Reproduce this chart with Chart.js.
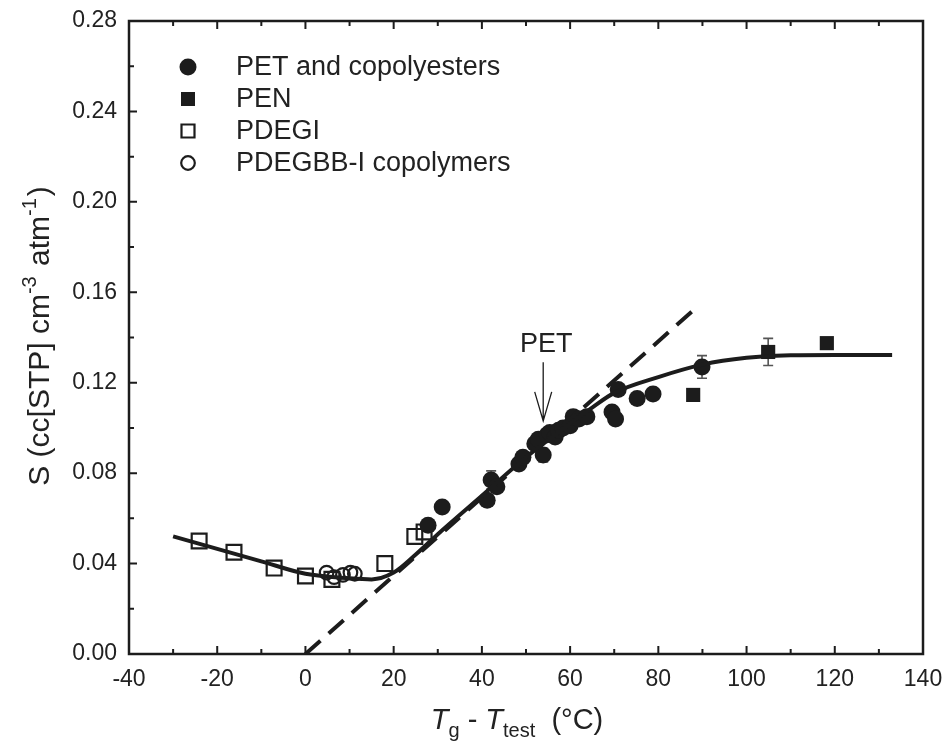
<!DOCTYPE html>
<html>
<head>
<meta charset="utf-8">
<script src="https://cdn.jsdelivr.net/npm/chart.js@4/dist/chart.umd.min.js"></script>
<style>
  html, body { margin: 0; padding: 0; background: #fff; }
  #wrap { width: 945px; height: 748px; }
</style>
</head>
<body>
<div id="wrap"><canvas id="c" width="945" height="748"></canvas></div>
<script>
// Solubility S vs. (Tg - Ttest)

// ---- data ----
const xTicks = [-40, -20, 0, 20, 40, 60, 80, 100, 120, 140];
const yTicks = [0.00, 0.04, 0.08, 0.12, 0.16, 0.20, 0.24, 0.28];

// PET and copolyesters: x, S, error
const petX   = [27.8, 31.0, 41.2, 42.1, 43.4, 48.4, 49.3, 52.0, 52.8, 53.9, 54.8, 55.4, 56.6, 57.4, 58.4, 60.0, 60.7, 62.0, 63.8, 69.5, 70.3, 70.9, 75.2, 78.8, 89.9];
const petS   = [0.057, 0.065, 0.068, 0.077, 0.074, 0.084, 0.087, 0.093, 0.095, 0.088, 0.097, 0.098, 0.096, 0.099, 0.100, 0.101, 0.105, 0.104, 0.105, 0.107, 0.104, 0.117, 0.113, 0.115, 0.127];
const petErr = [0, 0, 0.002, 0.004, 0.002, 0.002, 0.002, 0.002, 0, 0.003, 0, 0.002, 0, 0, 0.002, 0, 0, 0, 0, 0, 0.002, 0, 0, 0, 0.005];

// PEN
const penX   = [87.9, 104.9, 118.2];
const penS   = [0.1146, 0.1336, 0.1375];
const penErr = [0, 0.006, 0];

// PDEGI
const pdegiX = [-24.1, -16.2, -7.1, 0.0, 6.0, 18.0, 24.8, 26.9];
const pdegiS = [0.050, 0.045, 0.038, 0.0345, 0.033, 0.040, 0.052, 0.054];

// PDEGBB-I copolymers
const bbX = [4.8, 6.5, 8.5, 10.2, 11.2];
const bbS = [0.036, 0.034, 0.035, 0.036, 0.0355];

// fitted curve through all data
const fitX = [-30, -20, -10, 0, 10, 15, 20, 25, 30, 40, 50, 60, 65, 70, 80, 90, 100, 110, 120, 133];
const fitS = [0.052, 0.0465, 0.041, 0.0355, 0.0335, 0.033, 0.036, 0.044, 0.053, 0.070, 0.087, 0.102, 0.109, 0.1155, 0.1225, 0.128, 0.131, 0.1322, 0.1323, 0.1323];

// glassy-state extrapolation (dashed)
const lineX = [0, 88.5];
const lineS = [0, 0.153];

// PET marker: label position, arrow start and tip (data units)
const petNote = { text: 'PET', x: 53.9, textS: 0.1336, fromS: 0.1291, toS: 0.1031 };

const legendItems = ['PET and copolyesters', 'PEN', 'PDEGI', 'PDEGBB-I copolymers'];

// ---- helpers ----
const INK = '#1c1c1c';
const TXT = '#222';
const FONT = '"Liberation Sans", Arial, Helvetica, sans-serif';
const pts = (xs, ys) => xs.map((x, i) => ({ x: x, y: ys[i] }));

function drawMarker(ctx, kind, x, y) {
  ctx.save();
  ctx.lineWidth = 2.2;
  ctx.strokeStyle = INK;
  ctx.fillStyle = INK;
  ctx.beginPath();
  if (kind === 'fcircle') { ctx.arc(x, y, 8.5, 0, Math.PI * 2); ctx.fill(); }
  else if (kind === 'fsquare') { ctx.rect(x - 7, y - 7, 14, 14); ctx.fill(); }
  else if (kind === 'osquare') { ctx.rect(x - 6.5, y - 6.5, 13, 13); ctx.stroke(); }
  else if (kind === 'ocircle') { ctx.arc(x, y, 6.8, 0, Math.PI * 2); ctx.stroke(); }
  ctx.restore();
}

function richWidth(ctx, segs) {
  let w = 0;
  segs.forEach(s => { ctx.font = s.font; w += ctx.measureText(s.t).width + (s.gap || 0); });
  return w;
}
function drawRich(ctx, segs, cx, baseY) {
  const w = richWidth(ctx, segs);
  let x = cx - w / 2;
  ctx.textAlign = 'left';
  ctx.textBaseline = 'alphabetic';
  segs.forEach(s => {
    ctx.font = s.font;
    ctx.fillText(s.t, x, baseY + (s.dy || 0));
    x += ctx.measureText(s.t).width + (s.gap || 0);
  });
}

// error bars, drawn beneath the markers
const errorBars = {
  id: 'errorBars',
  beforeDatasetsDraw(chart) {
    const ctx = chart.ctx, xs = chart.scales.x, ys = chart.scales.y;
    ctx.save();
    ctx.strokeStyle = '#555';
    ctx.lineWidth = 1.6;
    chart.data.datasets.forEach(ds => {
      if (!ds.errors) return;
      ds.data.forEach((p, i) => {
        const e = ds.errors[i];
        if (!e) return;
        const px = xs.getPixelForValue(p.x);
        const y1 = ys.getPixelForValue(p.y + e), y2 = ys.getPixelForValue(p.y - e);
        ctx.beginPath();
        ctx.moveTo(px, y1); ctx.lineTo(px, y2);
        ctx.moveTo(px - 5, y1); ctx.lineTo(px + 5, y1);
        ctx.moveTo(px - 5, y2); ctx.lineTo(px + 5, y2);
        ctx.stroke();
      });
    });
    ctx.restore();
  }
};

// frame, inward ticks, titles, legend and the PET pointer
const decorations = {
  id: 'decorations',
  afterDraw(chart) {
    const ctx = chart.ctx, a = chart.chartArea, xs = chart.scales.x, ys = chart.scales.y;
    ctx.save();
    ctx.strokeStyle = INK;
    ctx.lineWidth = 2.5;
    ctx.strokeRect(a.left, a.top, a.right - a.left, a.bottom - a.top);

    // ticks
    ctx.lineWidth = 2;
    const majorLen = 8, minorLen = 5;
    ctx.beginPath();
    xTicks.forEach((v, i) => {
      const px = xs.getPixelForValue(v);
      ctx.moveTo(px, a.bottom); ctx.lineTo(px, a.bottom - majorLen);
      ctx.moveTo(px, a.top); ctx.lineTo(px, a.top + majorLen);
      if (i < xTicks.length - 1) {
        const m = xs.getPixelForValue((v + xTicks[i + 1]) / 2);
        ctx.moveTo(m, a.bottom); ctx.lineTo(m, a.bottom - minorLen);
        ctx.moveTo(m, a.top); ctx.lineTo(m, a.top + minorLen);
      }
    });
    yTicks.forEach((v, i) => {
      const py = ys.getPixelForValue(v);
      ctx.moveTo(a.left, py); ctx.lineTo(a.left + majorLen, py);
      if (i < yTicks.length - 1) {
        const m = ys.getPixelForValue((v + yTicks[i + 1]) / 2);
        ctx.moveTo(a.left, m); ctx.lineTo(a.left + minorLen, m);
      }
    });
    ctx.stroke();

    ctx.fillStyle = TXT;
    // x title: Tg - Ttest (°C)
    const big = '29px ' + FONT, bigI = 'italic 29px ' + FONT, small = '20px ' + FONT;
    drawRich(ctx, [
      { t: 'T', font: bigI },
      { t: 'g', font: small, dy: 8 },
      { t: ' - ', font: big },
      { t: 'T', font: bigI },
      { t: 'test', font: small, dy: 8 },
      { t: '  (\u00B0C)', font: big }
    ], 517, 729);

    // y title
    ctx.save();
    ctx.translate(49, 336);
    ctx.rotate(-Math.PI / 2);
    const yBig = '30px ' + FONT, ySmall = '20px ' + FONT;
    drawRich(ctx, [
      { t: 'S (cc[STP] cm', font: yBig },
      { t: '-3', font: ySmall, dy: -13, gap: 2 },
      { t: ' atm', font: yBig },
      { t: '-1', font: ySmall, dy: -13, gap: 2 },
      { t: ')', font: yBig }
    ], 0, 0);
    ctx.restore();

    // legend
    const kinds = ['fcircle', 'fsquare', 'osquare', 'ocircle'];
    const lx = 188, tx = 236, ly0 = 67, dy = 32;
    ctx.font = '27px ' + FONT;
    ctx.textAlign = 'left';
    ctx.textBaseline = 'middle';
    legendItems.forEach((label, i) => {
      const yy = ly0 + i * dy;
      drawMarker(ctx, kinds[i], lx, yy);
      ctx.fillStyle = TXT;
      ctx.fillText(label, tx, yy + 1);
    });

    // PET pointer
    const ax = xs.getPixelForValue(petNote.x);
    const yText = ys.getPixelForValue(petNote.textS);
    const yFrom = ys.getPixelForValue(petNote.fromS);
    const yTip = ys.getPixelForValue(petNote.toS);
    ctx.font = '27px ' + FONT;
    ctx.textAlign = 'center';
    ctx.textBaseline = 'alphabetic';
    ctx.fillText(petNote.text, ax + 3, yText);
    ctx.strokeStyle = INK;
    ctx.lineWidth = 1.3;
    ctx.beginPath();
    ctx.moveTo(ax, yFrom); ctx.lineTo(ax, yTip);
    ctx.moveTo(ax - 8.5, yTip - 29); ctx.lineTo(ax, yTip); ctx.lineTo(ax + 8.5, yTip - 29);
    ctx.stroke();
    ctx.restore();
  }
};

const tickFont = { family: FONT, size: 23 };

new Chart(document.getElementById('c'), {
  type: 'scatter',
  data: {
    datasets: [
      { label: 'fit', data: pts(fitX, fitS), showLine: true, cubicInterpolationMode: 'monotone',
        borderColor: INK, borderWidth: 4, pointRadius: 0, fill: false },
      { label: 'extrapolation', data: pts(lineX, lineS), showLine: true, borderDash: [20, 11],
        borderColor: INK, borderWidth: 4, pointRadius: 0, fill: false },
      { label: 'PET and copolyesters', data: pts(petX, petS), errors: petErr,
        pointStyle: 'circle', pointRadius: 8.5, backgroundColor: INK, borderColor: INK, borderWidth: 0 },
      { label: 'PEN', data: pts(penX, penS), errors: penErr,
        pointStyle: 'rect', pointRadius: 10, backgroundColor: INK, borderColor: INK, borderWidth: 0 },
      { label: 'PDEGI', data: pts(pdegiX, pdegiS),
        pointStyle: 'rect', pointRadius: 10.5, backgroundColor: 'rgba(0,0,0,0)', borderColor: INK, borderWidth: 2.2 },
      { label: 'PDEGBB-I copolymers', data: pts(bbX, bbS),
        pointStyle: 'circle', pointRadius: 6.8, backgroundColor: 'rgba(0,0,0,0)', borderColor: INK, borderWidth: 2.2 }
    ]
  },
  options: {
    responsive: false,
    animation: false,
    devicePixelRatio: 1,
    layout: { padding: { top: 21, right: 22, left: 0, bottom: 0 } },
    plugins: { legend: { display: false }, tooltip: { enabled: false } },
    scales: {
      x: {
        type: 'linear', min: -40, max: 140,
        afterBuildTicks: s => { s.ticks = xTicks.map(v => ({ value: v })); },
        afterFit: s => { s.height = 94; s.paddingLeft = 0; s.paddingRight = 0; },
        grid: { display: false, drawTicks: false },
        border: { display: false },
        ticks: { font: tickFont, color: TXT, padding: 12, maxRotation: 0, autoSkip: false,
                 callback: v => String(v) }
      },
      y: {
        type: 'linear', min: 0, max: 0.28,
        afterBuildTicks: s => { s.ticks = yTicks.map(v => ({ value: v })); },
        afterFit: s => { s.width = 129; s.paddingTop = 0; s.paddingBottom = 0; },
        grid: { display: false, drawTicks: false },
        border: { display: false },
        ticks: { font: tickFont, color: TXT, padding: 12, autoSkip: false,
                 callback: v => Number(v).toFixed(2) }
      }
    }
  },
  plugins: [errorBars, decorations]
});
</script>
</body>
</html>
